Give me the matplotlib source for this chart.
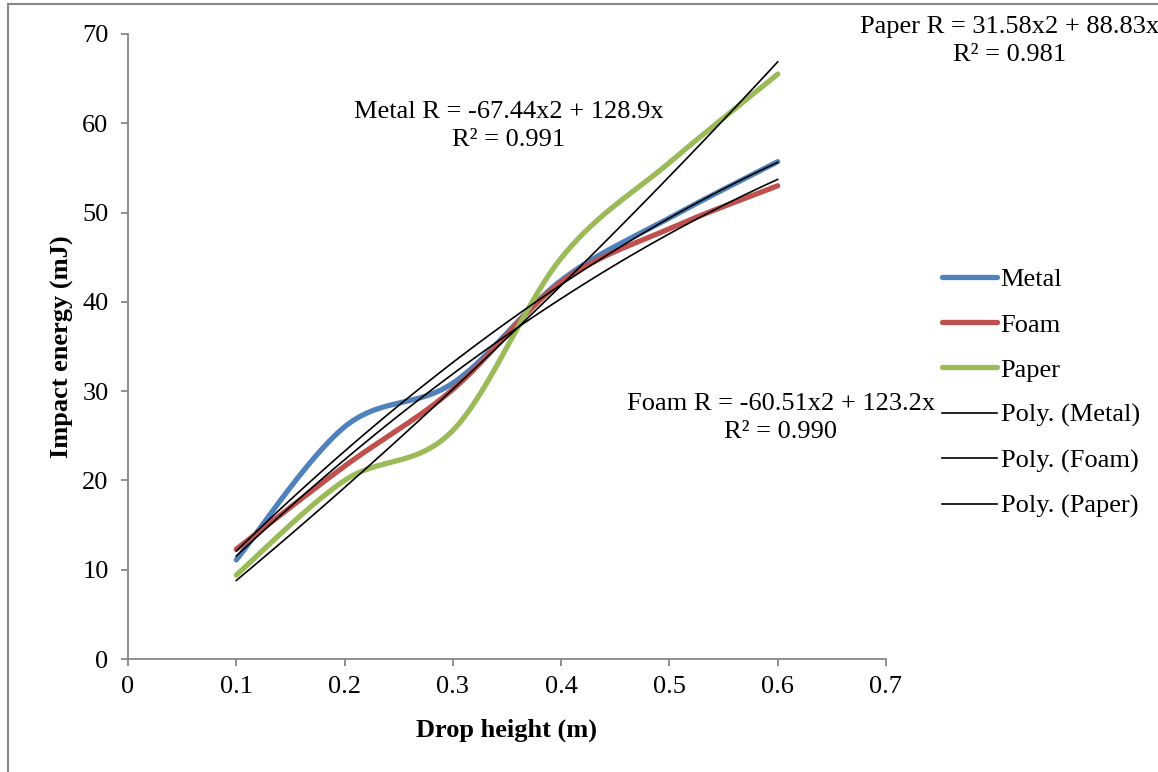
import numpy as np
import matplotlib.pyplot as plt
from matplotlib.patches import Rectangle

plt.rcParams["font.family"] = ["Liberation Serif", "DejaVu Serif"]

# Data
drop_height = [0.1, 0.2, 0.3, 0.4, 0.5, 0.6]
metal = [11.1, 26.0, 30.9, 42.4, 49.4, 55.7]
foam = [12.3, 21.6, 30.2, 42.2, 48.2, 53.0]
paper = [9.4, 20.0, 25.6, 44.9, 55.6, 65.5]

series_names = ["Metal", "Foam", "Paper"]
series_colors = ["#4F81BD", "#C0504D", "#9BBB59"]
x_ticks = [0, 0.1, 0.2, 0.3, 0.4, 0.5, 0.6, 0.7]
y_ticks = [0, 10, 20, 30, 40, 50, 60, 70]

eq_texts = [
    "Metal R = -67.44x2 + 128.9x\nR² = 0.991",
    "Foam R = -60.51x2 + 123.2x\nR² = 0.990",
    "Paper R = 31.58x2 + 88.83x\nR² = 0.981",
]


def smooth(x, y, n=40):
    # Excel-like smoothed line (Catmull-Rom as cubic Bezier)
    p = np.column_stack([x, y])
    pts = np.vstack([p[0], p, p[-1]])
    t = np.linspace(0, 1, n)[:, None]
    segs = []
    for i in range(1, len(pts) - 2):
        p0, p1, p2, p3 = pts[i - 1], pts[i], pts[i + 1], pts[i + 2]
        c1 = p1 + (p2 - p0) / 6
        c2 = p2 - (p3 - p1) / 6
        segs.append((1 - t) ** 3 * p1 + 3 * (1 - t) ** 2 * t * c1
                    + 3 * (1 - t) * t ** 2 * c2 + t ** 3 * p2)
    s = np.vstack(segs)
    return s[:, 0], s[:, 1]


W, H = 1158, 772
FS = 19
fig = plt.figure(figsize=(W / 100, H / 100), dpi=100)
ax = fig.add_axes([128 / W, 1 - 659 / H, (886 - 128) / W, (659 - 34) / H])

x = np.array(drop_height)
handles = []
for name, vals, col in zip(series_names, [metal, foam, paper], series_colors):
    sx, sy = smooth(x, vals)
    h, = ax.plot(sx, sy, color=col, lw=3.8, solid_capstyle="round", label=name)
    handles.append(h)

xf = np.linspace(x[0], x[-1], 100)
for name, vals in zip(series_names, [metal, foam, paper]):
    coef = np.polyfit(x, vals, 2)
    h, = ax.plot(xf, np.polyval(coef, xf), color="black", lw=1.2,
                 label=f"Poly. ({name})")
    handles.append(h)

ax.set_xlim(0, 0.7)
ax.set_ylim(0, 70)
ax.set_xticks(x_ticks)
ax.set_xticklabels([f"{v:g}" for v in x_ticks])
ax.set_yticks(y_ticks)
ax.spines["top"].set_visible(False)
ax.spines["right"].set_visible(False)
for s in ["left", "bottom"]:
    ax.spines[s].set_color("#868686")
    ax.spines[s].set_linewidth(1.3)
ax.tick_params(direction="out", length=5, width=1.3, color="#868686",
               labelsize=FS)
ax.tick_params(axis="x", pad=7)
ax.tick_params(axis="y", pad=9)

ax.set_xlabel("Drop height (m)", fontsize=FS, fontweight="bold", labelpad=15)
ax.set_ylabel("Impact energy (mJ)", fontsize=FS, fontweight="bold", labelpad=6)

# Trendline equation labels
eq_pos = [(509, 126), (781, 418), (1010, 41)]
for txt, (px, py) in zip(eq_texts, eq_pos):
    fig.text(px / W, 1 - py / H, txt, ha="center", va="center",
             fontsize=FS, multialignment="center", linespacing=1.33)

fig.legend(handles=handles, loc="upper left",
           bbox_to_anchor=(942 / W, 1 - 268 / H), frameon=False,
           fontsize=FS, handlelength=2.1, handletextpad=0.12,
           labelspacing=0.82, borderpad=0, borderaxespad=0)

# Chart border
fig.patches.append(Rectangle((8 / W, -0.1), 1.2, 1 - 4 / H + 0.1,
                             transform=fig.transFigure, fill=False,
                             edgecolor="#898989", lw=1.5))

fig.savefig("out.png", dpi=100)
